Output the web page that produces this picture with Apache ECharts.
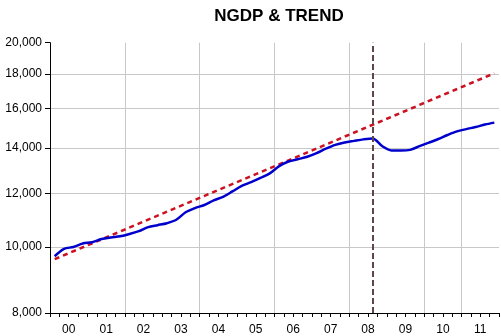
<!DOCTYPE html>
<html>
<head>
<meta charset="utf-8">
<script src="https://cdn.jsdelivr.net/npm/echarts@6/dist/echarts.min.js"></script>
<style>
  html, body { margin: 0; padding: 0; background: #ffffff; }
  #chart { width: 501px; height: 336px; }
</style>
</head>
<body>
<div id="chart"></div>
<script>
// Year labels shown under the axis (one per calendar year)
const yearLabels = ['00', '01', '02', '03', '04', '05', '06', '07', '08', '09', '10', '11'];

// Quarterly categories 2000Q1 .. 2011Q4
const quarters = [];
yearLabels.forEach(function (y) {
  for (let q = 1; q <= 4; q++) quarters.push('20' + y + 'Q' + q);
});

// Nominal GDP, billions of dollars (annual rate), quarterly
const ngdp = [
  9697, 9943, 10007, 10124,
  10171, 10278, 10334, 10377,
  10458, 10561, 10705, 10775,
  10847, 10973, 11255, 11416,
  11537, 11722, 11861, 12080,
  12311, 12466, 12645, 12843,
  13161, 13368, 13473, 13587,
  13758, 13965, 14145, 14261,
  14338, 14411, 14455, 14088,
  13879, 13874, 13908, 14083,
  14252, 14430, 14628, 14806,
  14922, 15029, 15152, 15254
];

// Trend path: constant growth, so a straight line on the log scale
const trendCategories = ['2000Q1', '2011Q4'];
const trendValues = [9600, 18030];

// Quarter marking the break from trend
const breakQuarter = '2008Q3';

// Y-axis tick labels
const yTicks = [8000, 10000, 12000, 14000, 16000, 18000, 20000];

function withCommas(v) {
  return String(Math.round(v)).replace(/\B(?=(\d{3})+(?!\d))/g, ',');
}

const FONT = '"Liberation Sans", Arial, sans-serif';
const chart = echarts.init(document.getElementById('chart'), null, { renderer: 'canvas' });

chart.setOption({
  animation: false,
  backgroundColor: '#ffffff',
  title: {
    text: 'NGDP & TREND',
    left: 274,
    textAlign: 'center',
    top: 3,
    textStyle: { fontFamily: FONT, fontWeight: 'bold', fontSize: 17, color: '#000000' }
  },
  grid: { left: 50, right: 2, top: 42.7, bottom: 22.7, containLabel: false },
  xAxis: [
    {
      type: 'category',
      data: quarters,
      boundaryGap: true,
      position: 'bottom',
      axisLine: { show: true, lineStyle: { color: '#000000', width: 1 } },
      axisTick: { show: true, interval: 0, length: 4, lineStyle: { color: '#000000' } },
      axisLabel: { show: false },
      splitLine: { show: false }
    },
    {
      type: 'category',
      data: yearLabels,
      boundaryGap: true,
      position: 'bottom',
      axisLine: { show: false },
      axisTick: { show: false },
      axisLabel: { show: true, interval: 0, margin: 11, fontFamily: FONT, fontSize: 12, color: '#000000' },
      splitLine: {
        show: true, interval: 1, showMinLine: false, showMaxLine: false,
        lineStyle: { color: '#c8c8c8', width: 1 }
      }
    }
  ],
  yAxis: {
    type: 'log',
    logBase: 10,
    min: 8000,
    max: 20000,
    axisLine: { show: true, lineStyle: { color: '#000000', width: 1 } },
    axisTick: { show: true, inside: false, length: 5, customValues: yTicks, lineStyle: { color: '#000000' } },
    axisLabel: {
      show: true, margin: 8, customValues: yTicks,
      fontFamily: FONT, fontSize: 12, color: '#000000',
      formatter: function (v) { return withCommas(v); }
    },
    splitLine: {
      show: true, showMinLine: false, showMaxLine: false,
      lineStyle: { color: '#c8c8c8', width: 1 }
    }
  },
  series: [
    {
      name: 'Trend',
      type: 'line',
      xAxisIndex: 0,
      data: trendCategories.map(function (c, i) { return [c, trendValues[i]]; }),
      symbol: 'none',
      lineStyle: { color: '#cc1122', width: 2.5, type: [5, 4] },
      z: 3
    },
    {
      name: 'NGDP',
      type: 'line',
      xAxisIndex: 0,
      data: ngdp,
      symbol: 'none',
      smooth: 0.3,
      lineStyle: { color: '#0000cc', width: 2.5 },
      z: 4,
      markLine: {
        silent: true,
        symbol: 'none',
        label: { show: false },
        lineStyle: { color: '#5c4848', width: 2, type: [6, 3] },
        data: [{ xAxis: breakQuarter }]
      }
    }
  ]
});
</script>
</body>
</html>
